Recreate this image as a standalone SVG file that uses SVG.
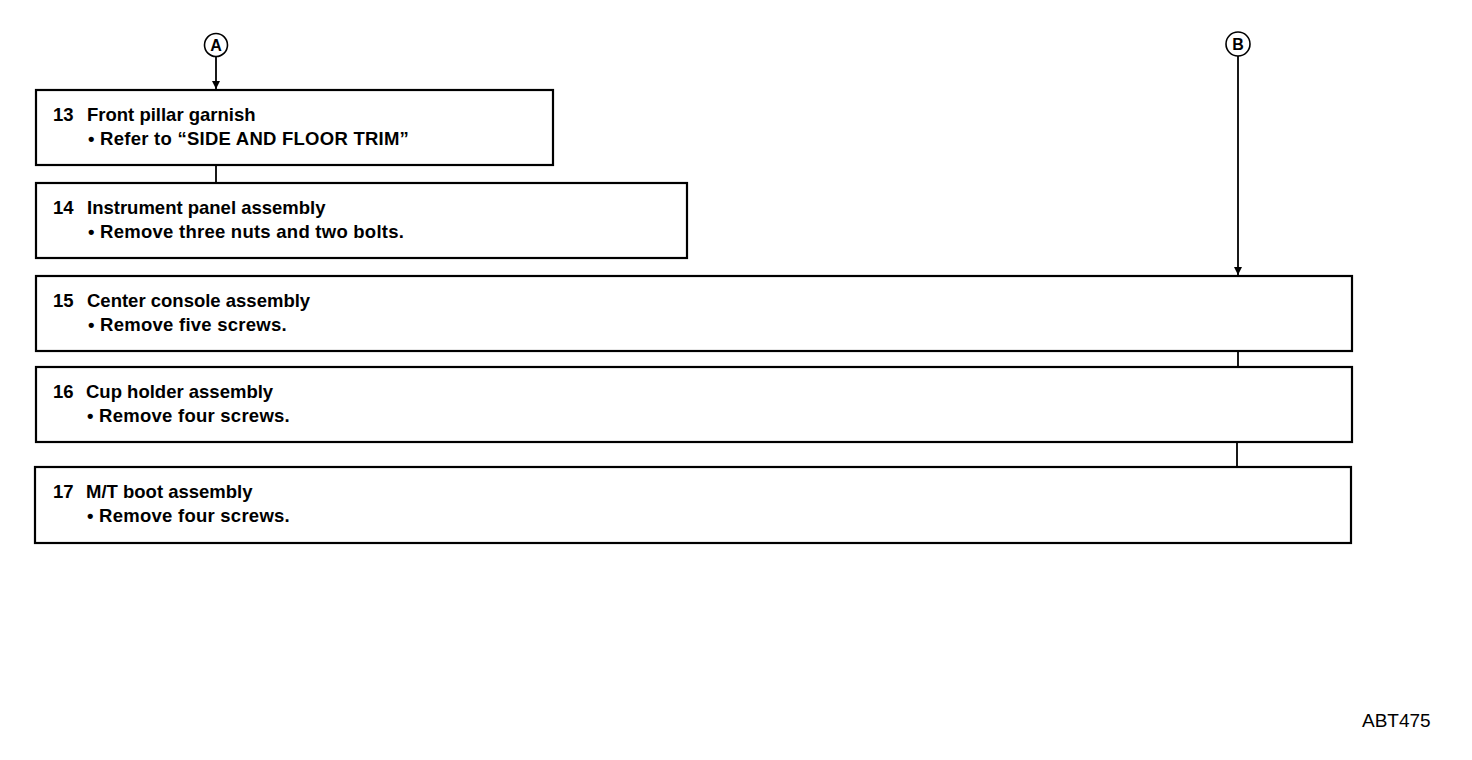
<svg xmlns="http://www.w3.org/2000/svg" width="1472" height="760" viewBox="0 0 1472 760">
<style>
.box{fill:#fff;stroke:#000;stroke-width:2.2}
.t{font-family:"Liberation Sans",Arial,sans-serif;font-size:18.5px;font-weight:bold;fill:#000}
.b{letter-spacing:0.25px}
.c{fill:#fff;stroke:#000;stroke-width:1.6}
.ct{font-family:"Liberation Sans",Arial,sans-serif;font-size:16px;font-weight:bold;fill:#000;text-anchor:middle}
.ln{stroke:#000;stroke-width:1.8;fill:none}
.lbl{font-family:"Liberation Sans",Arial,sans-serif;font-size:19px;fill:#000}
</style>
<defs>
<marker id="arr" markerWidth="8" markerHeight="10" refX="8" refY="4" orient="auto" markerUnits="userSpaceOnUse" viewBox="0 0 8 8">
<path d="M0,0 L8,4 L0,8 Z" fill="#000"/>
</marker>
</defs>
<rect width="1472" height="760" fill="#fff"/>
<g id="connectors">
<line class="ln" x1="216" y1="57" x2="216" y2="89" marker-end="url(#arr)"/>
<line class="ln" x1="216" y1="165" x2="216" y2="183"/>
<line class="ln" x1="1238" y1="56" x2="1238" y2="275" marker-end="url(#arr)"/>
<line class="ln" x1="1238" y1="351" x2="1238" y2="367"/>
<line class="ln" x1="1237" y1="442" x2="1237" y2="467"/>
</g>
<g id="connA">
<circle class="c" cx="216" cy="45" r="11.5"/>
<text class="ct" x="216" y="51">A</text>
</g>
<g id="connB">
<circle class="c" cx="1238" cy="44" r="12"/>
<text class="ct" x="1238" y="50">B</text>
</g>
<g id="n13">
<rect class="box" x="36" y="90" width="517" height="75"/>
<text class="t" x="53" y="121">13</text>
<text class="t" x="87" y="121">Front pillar garnish</text>
<text class="t b" x="88" y="145">• Refer to “SIDE AND FLOOR TRIM”</text>
</g>
<g id="n14">
<rect class="box" x="36" y="183" width="651" height="75"/>
<text class="t" x="53" y="214">14</text>
<text class="t" x="87" y="214">Instrument panel assembly</text>
<text class="t b" x="88" y="238">• Remove three nuts and two bolts.</text>
</g>
<g id="n15">
<rect class="box" x="36" y="276" width="1316" height="75"/>
<text class="t" x="53" y="307">15</text>
<text class="t" x="87" y="307">Center console assembly</text>
<text class="t b" x="88" y="331">• Remove five screws.</text>
</g>
<g id="n16">
<rect class="box" x="36" y="367" width="1316" height="75"/>
<text class="t" x="53" y="398">16</text>
<text class="t" x="86" y="398">Cup holder assembly</text>
<text class="t b" x="87" y="422">• Remove four screws.</text>
</g>
<g id="n17">
<rect class="box" x="35" y="467" width="1316" height="76"/>
<text class="t" x="53" y="498">17</text>
<text class="t" x="86" y="498">M/T boot assembly</text>
<text class="t b" x="87" y="522">• Remove four screws.</text>
</g>
<text class="lbl" x="1362" y="727">ABT475</text>
</svg>
